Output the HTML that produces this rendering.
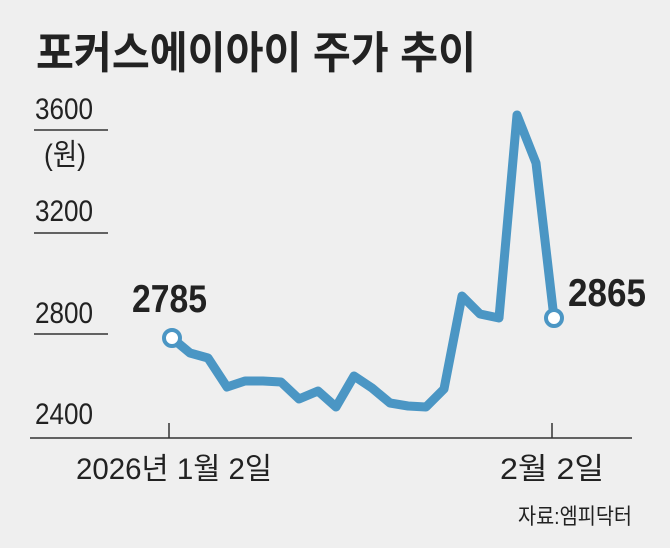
<!DOCTYPE html>
<html><head><meta charset="utf-8"><style>
body{margin:0;background:#efefef;}
svg{display:block}
text{font-family:"Liberation Sans","Noto Sans CJK KR",sans-serif;fill:#222}
</style></head><body>
<svg width="670" height="548" viewBox="0 0 670 548">
<rect width="670" height="548" fill="#efefef"/>
<text x="36" y="68" font-size="44" font-weight="bold" textLength="440" lengthAdjust="spacingAndGlyphs" fill="#1a1a1a">포커스에이아이 주가 추이</text>
<g stroke="#333" stroke-width="1.5">
<line x1="34" y1="130" x2="108" y2="130"/>
<line x1="34" y1="233" x2="108" y2="233"/>
<line x1="34" y1="334" x2="108" y2="334"/>
<line x1="30" y1="438" x2="632" y2="438"/>
<line x1="169" y1="423" x2="169" y2="438"/>
<line x1="552" y1="423" x2="552" y2="438"/>
</g>
<g font-size="30">
<text x="35" y="119" textLength="58" lengthAdjust="spacingAndGlyphs">3600</text>
<text x="44" y="165" textLength="42" lengthAdjust="spacingAndGlyphs">(원)</text>
<text x="35" y="221" textLength="58" lengthAdjust="spacingAndGlyphs">3200</text>
<text x="35" y="323" textLength="58" lengthAdjust="spacingAndGlyphs">2800</text>
<text x="35" y="424" textLength="58" lengthAdjust="spacingAndGlyphs">2400</text>
<text x="76" y="479" textLength="196" lengthAdjust="spacingAndGlyphs">2026년 1월 2일</text>
<text x="500" y="479" textLength="104" lengthAdjust="spacingAndGlyphs">2월 2일</text>
<text x="518" y="524" font-size="22" textLength="114" lengthAdjust="spacingAndGlyphs">자료:엠피닥터</text>
</g>
<text x="132" y="312" font-size="39" font-weight="bold" textLength="75" lengthAdjust="spacingAndGlyphs">2785</text>
<text x="568" y="306" font-size="39" font-weight="bold" textLength="78" lengthAdjust="spacingAndGlyphs">2865</text>
<polyline fill="none" stroke="#4b96c4" stroke-width="9" stroke-linejoin="round" stroke-linecap="round"
points="172,338 190,353 208,358 227,387 245,381 263,381 281,382 299,399 318,391 336,407 354,376 372,388 390,403 408,406 426,407 444,389 462,296 480,314 499,318 517,115 536,163 554,318"/>
<circle cx="172" cy="338" r="8" fill="#fff" stroke="#4b96c4" stroke-width="4"/>
<circle cx="554" cy="318" r="8" fill="#fff" stroke="#4b96c4" stroke-width="4"/>
</svg>
</body></html>
